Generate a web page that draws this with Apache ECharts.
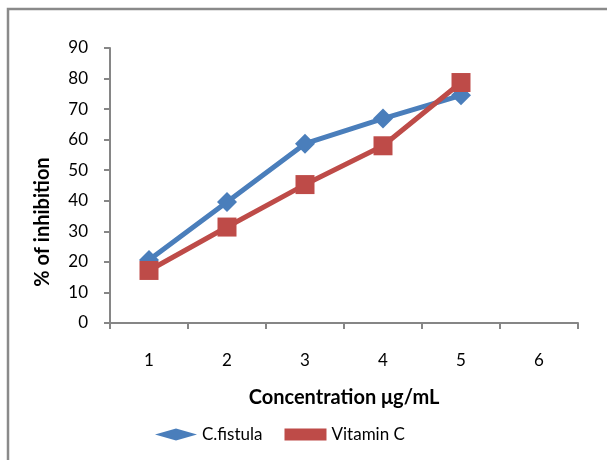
<!DOCTYPE html>
<html>
<head>
<meta charset="utf-8">
<script src="https://cdn.jsdelivr.net/npm/echarts@6/dist/echarts.min.js"></script>
<style>html,body{margin:0;padding:0;background:#fff}#c{width:607px;height:460px}</style>
</head>
<body>
<div id="c"></div>
<script>
const categories = ['1', '2', '3', '4', '5', '6'];
const cFistula = [20.6, 39.6, 58.7, 66.9, 74.5];
const vitaminC = [17.2, 31.4, 45.3, 58.0, 78.7];
const seriesNames = ['C.fistula', 'Vitamin C'];
const yTitle = '% of inhibition';
const xTitle = 'Concentration μg/mL';

const FONT = 'Lato, "Open Sans", sans-serif';
const chart = echarts.init(document.getElementById('c'));
chart.setOption({
  backgroundColor: '#ffffff',
  animation: false,
  textStyle: { fontFamily: FONT },
  graphic: [{
    type: 'polyline',
    shape: { points: [[8, 470], [8, 9], [620, 9]] },
    style: { stroke: '#8a8a8a', lineWidth: 2.5, fill: null }
  }, {
    type: 'text',
    x: 43, y: 222,
    rotation: Math.PI / 2,
    style: {
      text: yTitle, fontSize: 20, fontWeight: 'bold', fill: '#000',
      fontFamily: FONT, align: 'center', verticalAlign: 'middle'
    }
  }],
  grid: { left: 110, right: 29, top: 48, bottom: 137, containLabel: false },
  legend: {
    data: [
      { name: seriesNames[0], icon: 'diamond' },
      { name: seriesNames[1], icon: 'rect' }
    ],
    left: 150,
    top: 421,
    itemWidth: 42,
    itemHeight: 12,
    itemGap: 22,
    textStyle: { fontSize: 17, color: '#000', fontFamily: FONT }
  },
  xAxis: {
    type: 'category',
    data: categories,
    boundaryGap: true,
    name: xTitle,
    nameLocation: 'middle',
    nameGap: 65,
    nameTextStyle: { fontSize: 20, fontWeight: 'bold', color: '#000', fontFamily: FONT },
    axisLine: { lineStyle: { color: '#868686', width: 2 } },
    axisTick: { show: true, interval: 0, length: 6, lineStyle: { color: '#868686', width: 2 } },
    axisLabel: { fontSize: 17, color: '#000', margin: 29, interval: 0 },
    splitLine: { show: false }
  },
  yAxis: {
    type: 'value',
    min: 0, max: 90, interval: 10,
    axisLine: { show: true, lineStyle: { color: '#868686', width: 2 } },
    axisTick: { show: true, length: 6, lineStyle: { color: '#868686', width: 2 } },
    axisLabel: { fontSize: 17, color: '#000', margin: 22 },
    splitLine: { show: false }
  },
  series: [
    {
      name: seriesNames[0],
      type: 'line',
      data: cFistula,
      symbol: 'diamond',
      symbolSize: 20,
      itemStyle: { color: '#4a7ebb' },
      lineStyle: { color: '#4a7ebb', width: 5 }
    },
    {
      name: seriesNames[1],
      type: 'line',
      data: vitaminC,
      symbol: 'rect',
      symbolSize: 19,
      itemStyle: { color: '#be4b48' },
      lineStyle: { color: '#be4b48', width: 5 }
    }
  ]
});
</script>
</body>
</html>
